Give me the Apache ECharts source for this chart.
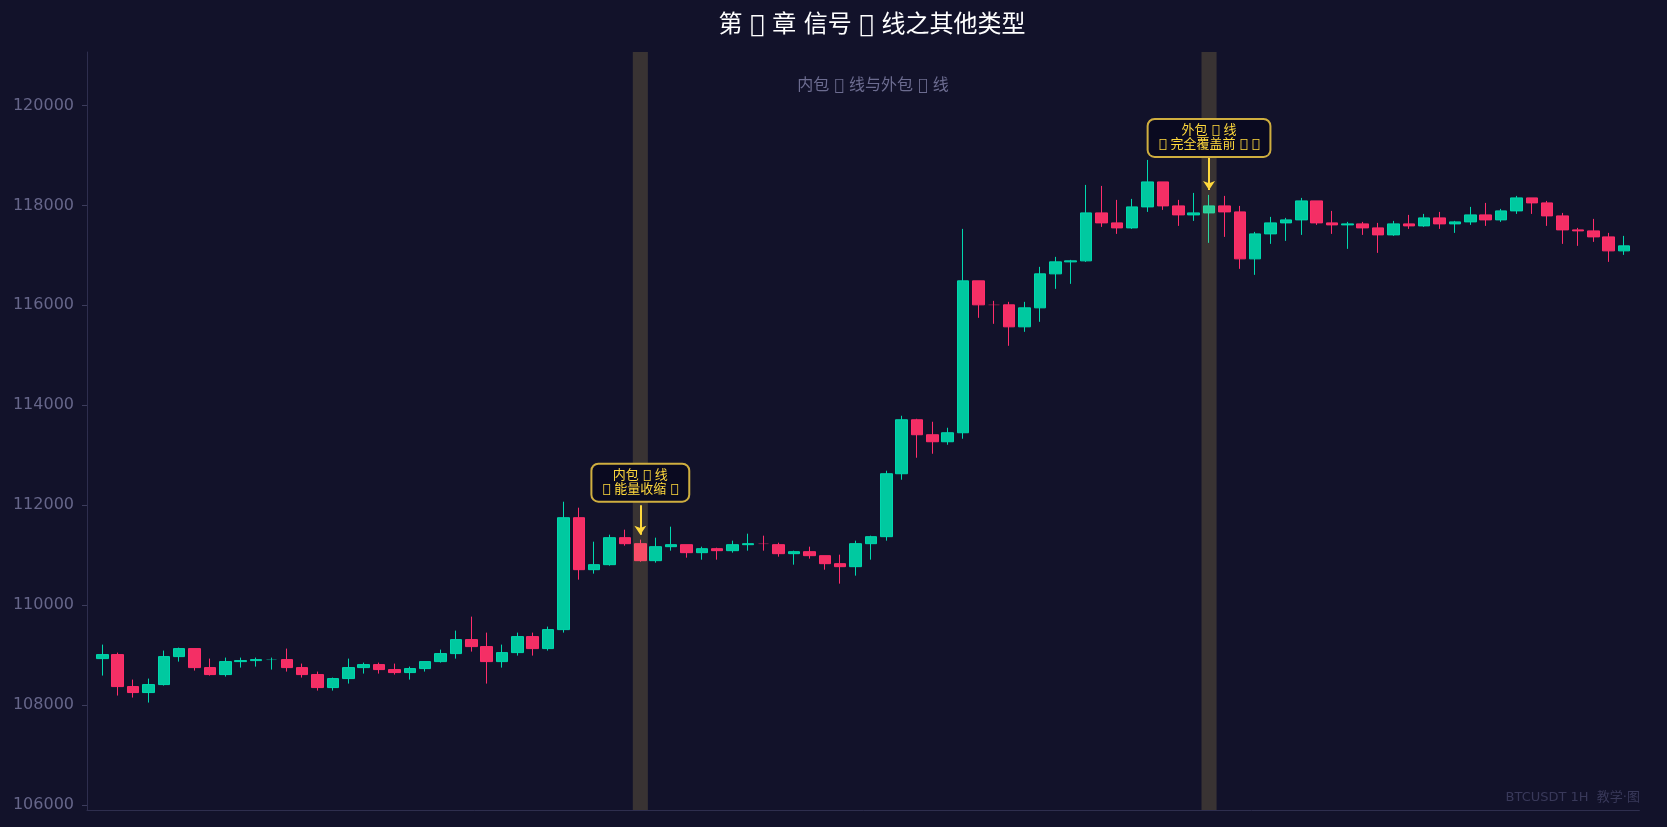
<!DOCTYPE html>
<html>
<head>
<meta charset="utf-8">
<title>信号线</title>
<script src="https://cdn.jsdelivr.net/npm/echarts@6/dist/echarts.min.js"></script>
<style>
html,body{margin:0;padding:0;background:#12122a;}
#main{width:1667px;height:827px;}
</style>
</head>
<body>
<div id="main"></div>
<script>
var openPrice = [
108930,109010,108370,108250,108410,108970,109130,108750,108610,108870,
108890,108910,108910,108750,108610,108350,108530,108750,108810,108710,
108650,108730,108870,109030,109310,109170,108870,109050,109370,109130,
109510,111750,110710,110810,111350,111230,110890,111170,111210,111050,
111130,111090,111210,111230,111210,111030,111070,110990,110830,110770,
111230,111370,112630,113710,113410,113270,113450,116490,116010,116010,
115570,115950,116630,116870,116890,117850,117650,117550,117970,118470,
117990,117810,117850,117990,117870,116930,117430,117650,117710,118090,
117650,117610,117630,117550,117410,117630,117590,117750,117630,117670,
117810,117710,117890,118150,118050,117790,117510,117490,117370,117090];
var closePrice = [
109010,108370,108250,108410,108970,109130,108750,108610,108870,108890,
108910,108910,108750,108610,108350,108530,108750,108810,108710,108650,
108730,108870,109030,109310,109170,108870,109050,109370,109130,109510,
111750,110710,110810,111350,111230,110890,111170,111210,111050,111130,
111090,111210,111230,111230,111030,111070,110990,110830,110770,111230,
111370,112630,113710,113410,113270,113450,116490,116010,116010,115570,
115950,116630,116870,116890,117850,117650,117550,117970,118470,117990,
117810,117850,117990,117870,116930,117430,117650,117710,118090,117650,
117610,117630,117550,117410,117630,117590,117750,117630,117670,117810,
117710,117890,118150,118050,117790,117510,117490,117370,117090,117190];
var highPrice = [
109210,109050,108510,108530,109090,109150,109130,108930,108950,108950,
108950,108950,109130,108830,108670,108550,108930,108850,108850,108830,
108770,108870,109110,109490,109770,109450,109210,109450,109450,109570,
112070,111950,111270,111410,111510,111310,111350,111570,111210,111170,
111150,111290,111430,111390,111250,111090,111170,110990,111010,111290,
111390,112690,113790,113730,113670,113550,117530,116490,116090,116070,
116070,116770,116970,116910,118410,118390,118110,118130,118910,118470,
118110,118250,118210,118190,117990,117470,117770,117750,118150,118090,
117890,117670,117670,117650,117690,117810,117830,117870,117690,117970,
118050,117930,118190,118150,118090,117850,117550,117730,117450,117390];
var lowPrice = [
108590,108190,108150,108050,108390,108870,108690,108590,108570,108750,
108770,108710,108670,108550,108290,108290,108430,108630,108630,108610,
108510,108670,108850,108930,109070,108430,108750,108990,108990,109090,
109450,110510,110630,110790,111190,110870,110850,111090,110950,110910,
110910,111050,111090,111090,110970,110810,110930,110710,110430,110590,
110910,111290,112510,112950,113030,113210,113330,115750,115630,115190,
115470,115670,116330,116430,116870,117570,117430,117530,117870,117910,
117590,117690,117250,117370,116730,116610,117230,117290,117410,117610,
117430,117130,117410,117050,117390,117530,117570,117530,117450,117610,
117590,117670,117830,117830,117590,117230,117190,117270,116870,117010];

var yTicks = [106000,108000,110000,112000,114000,116000,118000,120000];
var dojiIdx = [11,43,58];          // 开收相同的K线，实体很淡
var dojiUp = [true,false,false];
var bandIdx = [35,72];             // 高亮的两根
var noteIdx = [35,72];
var noteText = ['内包 \uE000 线\n\uE000 能量收缩 \uE000','外包 \uE000 线\n\uE000 完全覆盖前 \uE000 \uE000'];
var noteY = [112450,119350];
var arrowFrom = [112000,119000];
var arrowTo = [111410,118310];

var UP = '#00c9a0', UPW = '#00d8ae', DOWN = '#f42f65', DOWNW = '#ff2d6b';
var FONT = '"DejaVu Sans","Noto Sans CJK SC",sans-serif';

// x轴前后各留空位，对应 -1 到 100
var xCats = [];
for(var c=-1;c<=100;c++){ xCats.push(String(c)); }

var mainRows = [], wickRows = [], bodyRows = [];
xCats.forEach(function(){ mainRows.push('-'); wickRows.push('-'); bodyRows.push('-'); });
for(var i=0;i<openPrice.length;i++){
	var pos = dojiIdx.indexOf(i);
	if(pos<0){
		mainRows[i+1] = [openPrice[i],closePrice[i],lowPrice[i],highPrice[i]];
	}else{
		var col = dojiUp[pos] ? UPW : DOWNW;
		var st = {color:col,color0:col,borderColor:col,borderColor0:col,borderColorDoji:col};
		wickRows[i+1] = {value:[openPrice[i],closePrice[i],lowPrice[i],highPrice[i]],itemStyle:st};
		bodyRows[i+1] = {value:[openPrice[i],closePrice[i],closePrice[i],closePrice[i]],itemStyle:st};
	}
}

var bandData = bandIdx.map(function(k){ return [{xAxis:k-0.49},{xAxis:k+0.49}]; });
var arrowData = noteIdx.map(function(k,n){ return [{coord:[k,arrowFrom[n]]},{coord:[k,arrowTo[n]]}]; });
var noteData = noteIdx.map(function(k,n){ return {coord:[k,noteY[n]],value:noteText[n]}; });

var myChart = echarts.init(document.getElementById('main'),null,{renderer:'canvas'});
myChart.setOption({
	backgroundColor:'#12122a',
	animation:false,
	title:[
		{text:'第 \uE000 章 信号 \uE000 线之其他类型',left:867,top:9,textAlign:'center',
		 textStyle:{color:'#ffffff',fontSize:24,fontWeight:'normal',fontFamily:FONT}},
		{text:'内包 \uE000 线与外包 \uE000 线',left:868,top:73,textAlign:'center',
		 textStyle:{color:'#6c6c90',fontSize:16,fontWeight:'normal',fontFamily:FONT}},
		{text:'BTCUSDT 1H  教学·图',right:22,top:786,
		 textStyle:{color:'#39395a',fontSize:13,fontWeight:'normal',fontFamily:FONT}}
	],
	grid:{left:87,right:27.6,top:52,bottom:17},
	xAxis:[
		{type:'category',data:xCats,boundaryGap:false,
		 axisLine:{show:true,lineStyle:{color:'#2e2e4e',width:1}},
		 axisTick:{show:false},axisLabel:{show:false},splitLine:{show:false}},
		{type:'value',min:-1,max:100,show:false,splitLine:{show:false}}
	],
	yAxis:{
		type:'value',min:105900,max:121070,
		axisLine:{show:true,onZero:false,lineStyle:{color:'#2e2e4e',width:1}},
		axisTick:{show:true,length:5,customValues:yTicks,lineStyle:{color:'#3c3c5c'}},
		axisLabel:{color:'#66668a',fontSize:16,fontFamily:FONT,margin:13,customValues:yTicks,padding:[4,0,0,0],
			formatter:function(v){ return String(v); }},
		splitLine:{show:false}
	},
	series:[
		{type:'candlestick',name:'K线',data:mainRows,barWidth:12,z:2,
		 itemStyle:{color:UP,color0:DOWN,borderColor:UPW,borderColor0:DOWNW,borderWidth:1}},
		{type:'candlestick',name:'doji wick',data:wickRows,barWidth:1,z:2,
		 itemStyle:{borderWidth:1}},
		{type:'candlestick',name:'doji body',data:bodyRows,barWidth:11,z:2,
		 itemStyle:{borderWidth:1,opacity:0.22}},
		{type:'line',name:'注释',xAxisIndex:1,yAxisIndex:0,data:[],showSymbol:false,z:5,
		 markArea:{silent:true,z:4,itemStyle:{color:'rgba(255,217,100,0.17)'},data:bandData},
		 markLine:{silent:true,symbol:['none','arrow'],symbolSize:9,z:6,animation:false,
			lineStyle:{color:'#ffd93d',width:2,type:'solid',opacity:1},label:{show:false},data:arrowData},
		 markPoint:{silent:true,symbol:'circle',symbolSize:0,z:7,animation:false,
			label:{show:true,position:'inside',formatter:function(p){ return p.value; },
				color:'#ffd93d',fontSize:13,lineHeight:14,fontFamily:FONT,align:'center',
				backgroundColor:'#0a0a20',borderColor:'#cfae3f',borderWidth:2,borderRadius:6,padding:[5,10,3,10]},
			data:noteData}}
	]
});
</script>
</body>
</html>
